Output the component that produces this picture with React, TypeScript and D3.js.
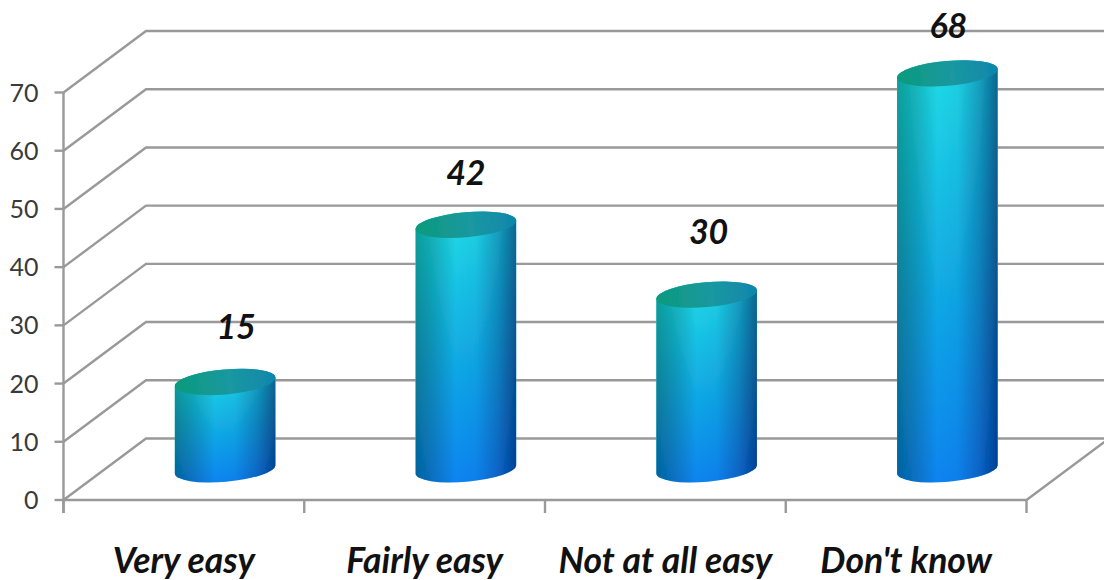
import React from "react";
import * as d3 from "d3";

const categories = ["Very easy", "Fairly easy", "Not at all easy", "Don't know"];
const values = [15, 42, 30, 68];
const yTicks = [0, 10, 20, 30, 40, 50, 60, 70];

const W = 1104, H = 580;
const x = d3.scaleBand<string>().domain(categories).range([63.5, 1026.5]);
const y = d3.scaleLinear().domain([0, 70]).range([500, 92.5]);
const depthX = 82.5, depthY = -61.5;
const rx = 50.5, ry = 12.5, tilt = -5;
const sin = Math.sin((tilt * Math.PI) / 180), cos = Math.cos((tilt * Math.PI) / 180);
const grid = "#999999";
const font = "Lato, 'Noto Sans', sans-serif";
// Hand-placed nudges of the value labels, relative to the top of each cylinder.
const labelNudgeX = [11, 0, 2, 1];
const labelNudgeY = [-43, -40, -51, -35];

export default function App() {
  const step = x.step();
  const edges = [...categories.map((c) => x(c)!), 1026.5];
  return (
    <svg width={W} height={H} viewBox={`0 0 ${W} ${H}`} style={{ position: "absolute", left: 0, top: 0, background: "#fff" }}>
      <defs>
        <linearGradient id="vert" x1="0" y1="0" x2="0" y2="1">
          <stop offset="0" stopColor="#20dce6" />
          <stop offset="0.5" stopColor="#12aee4" />
          <stop offset="1" stopColor="#0a84f0" />
        </linearGradient>
        <linearGradient id="horiz" x1="0" y1="0" x2="1" y2="0">
          <stop offset="0" stopColor="#68bcaa" />
          <stop offset="0.18" stopColor="#a4d6cf" />
          <stop offset="0.4" stopColor="#ffffff" />
          <stop offset="0.6" stopColor="#f0f5fa" />
          <stop offset="0.82" stopColor="#a6bcd2" />
          <stop offset="1" stopColor="#5478a0" />
        </linearGradient>
        <linearGradient id="cap" x1="0" y1="0" x2="1" y2="0">
          <stop offset="0" stopColor="#0b9a7c" />
          <stop offset="0.55" stopColor="#1a98a0" />
          <stop offset="1" stopColor="#0f86ad" />
        </linearGradient>
        <filter id="soft"><feGaussianBlur stdDeviation="0.6" /></filter>
      </defs>

      <g fill="none" stroke={grid} strokeWidth={2.4}>
        {yTicks.map((t) => (
          <path key={t} d={`M${x.range()[0]},${y(t)}L${x.range()[0] + depthX},${y(t) + depthY}H${W}`} />
        ))}
        <path d={`M${x.range()[0]},${y(70)}V${y(0) + 13}`} />
        <path d={`M${x.range()[0]},${y(0)}H${x.range()[1]}L${x.range()[1] + depthX},${y(0) + depthY}`} />
        {yTicks.map((t) => (
          <path key={t} d={`M${x.range()[0] - 9},${y(t)}H${x.range()[0]}`} />
        ))}
        {edges.map((e) => (
          <path key={e} d={`M${e},${y(0)}V${y(0) + 13}`} />
        ))}
      </g>

      {yTicks.map((t) => (
        <text key={t} x={38.5} y={y(t) + 9} textAnchor="end" fontFamily={font} fontSize={25} fill="#3a3a3a">{t}</text>
      ))}

      {categories.map((c, i) => {
        const cx = x(c)! + step / 2 + depthX / 2;
        const topY = y(values[i]) + depthY / 2;
        const botY = y(0) + depthY / 2;
        const dx = rx * cos, dy = rx * sin;
        const body = `M${cx - dx},${topY - dy}L${cx - dx},${botY - dy}A${rx},${ry} ${tilt} 0 0 ${cx + dx},${botY + dy}L${cx + dx},${topY + dy}A${rx},${ry} ${tilt} 0 0 ${cx - dx},${topY - dy}Z`;
        return (
          <g key={c} filter="url(#soft)" style={{ isolation: "isolate" }}>
            <path d={body} fill="url(#vert)" />
            <path d={body} fill="url(#horiz)" style={{ mixBlendMode: "multiply" }} />
            <ellipse cx={cx} cy={topY} rx={rx} ry={ry} transform={`rotate(${tilt} ${cx} ${topY})`} fill="url(#cap)" />
          </g>
        );
      })}

      {categories.map((c, i) => (
        <text key={c} x={x(c)! + step / 2 + depthX / 2 + labelNudgeX[i]} y={y(values[i]) + depthY / 2 + labelNudgeY[i]} textAnchor="middle" fontFamily={font} fontSize={34} fontWeight={700} fontStyle="italic" fill="#111">{values[i]}</text>
      ))}
      {categories.map((c) => (
        <text key={c} x={x(c)! + step / 2} y={573} textAnchor="middle" fontFamily={font} fontSize={35.5} fontWeight={700} fontStyle="italic" fill="#111">{c}</text>
      ))}
    </svg>
  );
}
